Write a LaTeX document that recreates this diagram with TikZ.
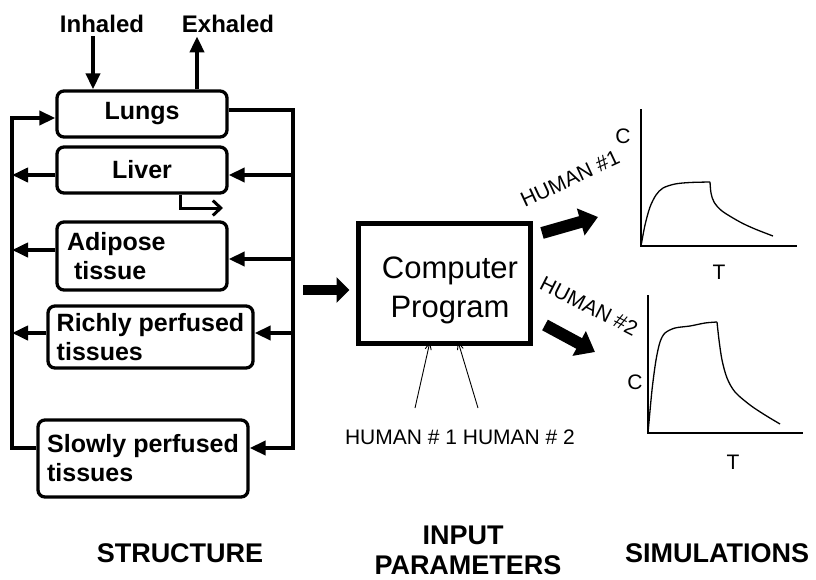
\documentclass[tikz,border=0pt]{standalone}
\usepackage{fontspec}
\setmainfont{Liberation Sans}
\usetikzlibrary{arrows.meta}
\begin{document}
\begin{tikzpicture}[x=1pt,y=-1pt,
  organ/.style={draw, line width=3.3pt, rounded corners=7pt, font=\fontsize{25}{29}\selectfont\bfseries, align=left, inner sep=0pt},
  bus/.style={line width=3.8pt},
  tip/.style={-{Triangle[length=16pt,width=14pt]}},
  lbl/.style={font=\fontsize{24}{28}\selectfont\bfseries},
  captn/.style={font=\fontsize{27}{30}\selectfont\bfseries},
  plain/.style={font=\fontsize{21}{24}\selectfont},
  block/.style={line width=10pt,-{Triangle[length=13pt,width=25pt]}},
  blockb/.style={line width=12pt,-{Triangle[length=18pt,width=27pt]}},
  axis/.style={line width=1.6pt},
  curve/.style={line width=1.3pt},
  thinarr/.style={line width=0.9pt,-{Straight Barb[length=7pt,width=6pt]}}
]
\useasboundingbox (0,0) rectangle (816,579);

% organ boxes
\node[organ, minimum width=170pt, minimum height=46pt] (lungs) at (142,114) {Lungs};
\node[organ, minimum width=170pt, minimum height=46pt] (liver) at (142,170) {Liver};
\node[organ, minimum width=170pt, minimum height=68pt, text width=150pt, inner xsep=10pt] (adipose) at (142,256) {Adipose\\\hspace*{7pt}tissue};
\node[organ, minimum width=205pt, minimum height=62pt] (richly) at (150.5,337) {Richly perfused\\tissues};
\node[organ, minimum width=210pt, minimum height=77pt] (slowly) at (143,458.5) {Slowly perfused\\tissues};

% bus coordinates
\coordinate (Rt) at (293,110);
\coordinate (Rb) at (293,448);
\coordinate (Lt) at (12,118);
\coordinate (Lb) at (12,448);

% right (arterial) bus
\draw[bus, tip] ([yshift=4pt]lungs.east) -- (Rt) -- (Rb) -- (slowly.east |- Rb);
\draw[bus, tip] (Rt |- 0,175) -- (liver.east |- 0,175);
\draw[bus, tip] (Rt |- 0,259) -- (adipose.east |- 0,259);
\draw[bus, tip] (Rt |- 0,333) -- (richly.east |- 0,333);

% left (venous) bus
\draw[bus, tip] (slowly.west |- Lb) -- (Lb) -- (Lt) -- (lungs.west |- Lt);
\draw[bus, tip] (liver.west |- 0,175) -- (Lt |- 0,175);
\draw[bus, tip] (adipose.west |- 0,250) -- (Lt |- 0,250);
\draw[bus, tip] (richly.west |- 0,333) -- (Lt |- 0,333);

% liver output
\coordinate (lvout) at (223,208);
\draw[line width=3pt, -{Straight Barb[length=8pt,width=15pt]}] (liver.south -| 180,0) |- (lvout);

% inhaled / exhaled
\node[lbl] (inh) at (102,24) {Inhaled};
\node[lbl] (exh) at (228,24) {Exhaled};
\draw[bus, tip] (inh.south -| 93,0) -- (lungs.north -| 93,0);
\draw[bus, tip] (lungs.north -| 197,0) -- (exh.south -| 197,0);

% computer program
\node[draw, line width=5pt, minimum width=172pt, minimum height=120pt, inner sep=0pt] (comp) at (444,283) {};
\node[font=\fontsize{31}{39}\selectfont, align=center] (comptxt) at (450,290) {Computer\\Program};
\draw[block] (303,290) -- ([xshift=-6pt]comp.west |- 0,290);

% human parameters
\node[plain] (hum) at (460,437) {HUMAN \# 1 HUMAN \# 2};
\coordinate (h1) at (415,408);
\coordinate (h2) at (478,408);
\draw[thinarr] (h1) -- ([yshift=4pt]comp.south -| 430,0);
\draw[thinarr] (h2) -- ([yshift=4pt]comp.south -| 458,0);

% arrows to simulations
\draw[blockb] (542,233) -- (598,217);
\draw[blockb] (545,325) -- (595,352);
\node[plain, rotate=25] (hlab1) at (570,179) {HUMAN \#1};
\node[plain, rotate=-27] (hlab2) at (589,306) {HUMAN \#2};

% graph 1
\draw[axis] (641,109) -- (641,246) -- (797,246);
\draw[curve] plot[smooth] coordinates {(641,246) (645,225) (650,207) (656,195) (663,188) (675,184) (690,182.5) (710,182)};
\draw[curve] plot[smooth] coordinates {(710,182) (711,193) (714,202) (722,211) (740,222) (755,229) (773,236)};
\node[plain] (c1) at (623,136) {C};
\node[plain] (t1) at (719,272) {T};

% graph 2
\draw[axis] (648,295) -- (648,433) -- (803,433);
\draw[curve] plot[smooth] coordinates {(648,433) (652,390) (656,360) (660,342) (665,333) (675,328) (690,326) (705,323) (717,322)};
\draw[curve] plot[smooth] coordinates {(717,322) (719,340) (722,360) (727,378) (735,392) (750,405) (765,415) (780,424)};
\node[plain] (c2) at (635,382) {C};
\node[plain] (t2) at (733,462) {T};

% captions
\node[captn] (struct) at (180,553) {STRUCTURE};
\node[captn] (input) at (463,535) {INPUT};
\node[captn] (params) at (468,565) {PARAMETERS};
\node[captn] (sims) at (717,553) {SIMULATIONS};
\end{tikzpicture}
\end{document}
